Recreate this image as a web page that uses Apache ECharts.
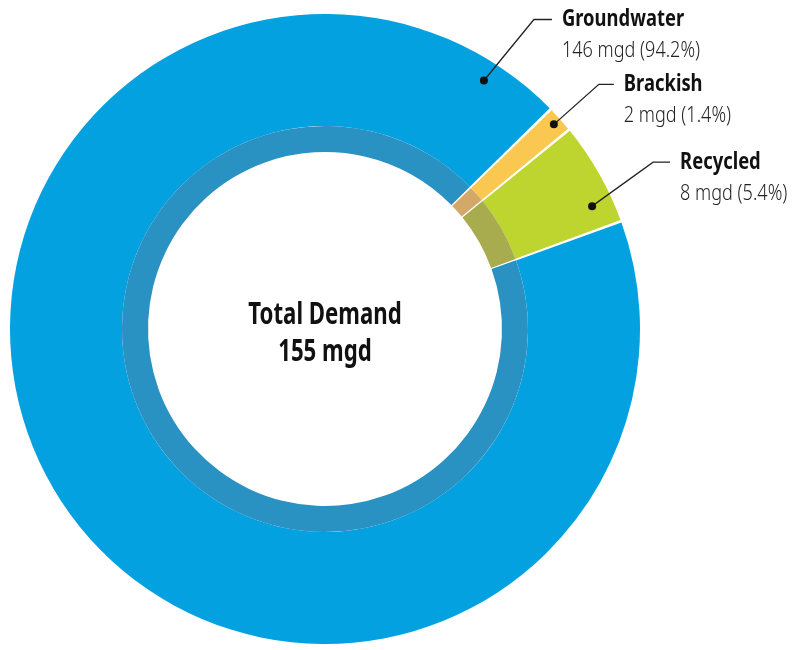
<!DOCTYPE html>
<html>
<head>
<meta charset="utf-8">
<script src="https://cdn.jsdelivr.net/npm/echarts@6/dist/echarts.min.js"></script>
<style>
  html, body { margin: 0; padding: 0; background: #fff; }
  #chart { width: 792px; height: 650px; }
</style>
</head>
<body>
<div id="chart"></div>
<script>
// data
const names = ["Recycled", "Brackish", "Groundwater"];
const mgd = [8, 2, 146];
const shares = [5.4, 1.4, 94.2];
const totalMgd = 155;

const colors = ["#bed530", "#fac850", "#04a1e1"];
const ringColors = ["#a8ac4e", "#d4a868", "#2a91c3"];

// label anchor layout (angle in deg ccw from 3 o'clock, radius, elbow offset)
const labelAnchors = [
  { angle: 24.7, r: 294, dx: 61, dy: -44, len: 17 },
  { angle: 41.8, r: 307, dx: 45, dy: -40, len: 15 },
  { angle: 57.4, r: 295, dx: 50, dy: -61, len: 18 },
];

const cx = 325, cy = 329;
const R = 315, rRing = 203, rHole = 177;
const fontFam = "'Noto Sans', sans-serif";

const chart = echarts.init(document.getElementById("chart"));

const pieData = (cols) =>
  names.map((n, i) => ({ name: n, value: shares[i], itemStyle: { color: cols[i] } }));

const graphics = [];
labelAnchors.forEach((a, i) => {
  const rad = (a.angle * Math.PI) / 180;
  const x0 = cx + a.r * Math.cos(rad);
  const y0 = cy - a.r * Math.sin(rad);
  const x1 = x0 + a.dx, y1 = y0 + a.dy;
  const x2 = x1 + a.len;
  graphics.push({
    type: "polyline",
    shape: { points: [[x0, y0], [x1, y1], [x2, y1]] },
    style: { stroke: "#222", lineWidth: 1.3, fill: null },
    z: 10,
  });
  graphics.push({
    type: "circle",
    shape: { cx: x0, cy: y0, r: 4 },
    style: { fill: "#111" },
    z: 11,
  });
  graphics.push({
    type: "text",
    x: x2 + 10,
    y: y1,
    scaleX: 0.8,
    style: {
      text: names[i],
      font: "bold 23px " + fontFam,
      fill: "#111",
      textVerticalAlign: "middle",
    },
    z: 10,
  });
  graphics.push({
    type: "text",
    x: x2 + 10,
    y: y1 + 32,
    scaleX: 0.86,
    style: {
      text: mgd[i] + " mgd (" + shares[i].toFixed(1) + "%)",
      font: "300 21px " + fontFam,
      fill: "#222",
      textVerticalAlign: "middle",
    },
    z: 10,
  });
});

graphics.push({
  type: "text",
  x: cx,
  y: 315,
  scaleX: 0.74,
  style: {
    text: "Total Demand",
    font: "bold 30px " + fontFam,
    fill: "#111",
    textAlign: "center",
    textVerticalAlign: "middle",
  },
});
graphics.push({
  type: "text",
  x: cx,
  y: 352,
  scaleX: 0.74,
  style: {
    text: totalMgd + " mgd",
    font: "bold 30px " + fontFam,
    fill: "#111",
    textAlign: "center",
    textVerticalAlign: "middle",
  },
});

const pieBase = {
  type: "pie",
  center: [cx, cy],
  startAngle: 20,
  clockwise: false,
  label: { show: false },
  labelLine: { show: false },
  itemStyle: { borderWidth: 0 },
  emphasis: { disabled: true },
};

chart.setOption({
  animation: false,
  series: [
    Object.assign({}, pieBase, {
      radius: [rRing, R],
      padAngle: 0.5,
      data: pieData(colors),
    }),
    Object.assign({}, pieBase, {
      radius: [rHole, rRing],
      padAngle: 0.4,
      data: pieData(ringColors),
    }),
  ],
  graphic: graphics,
});
</script>
</body>
</html>
